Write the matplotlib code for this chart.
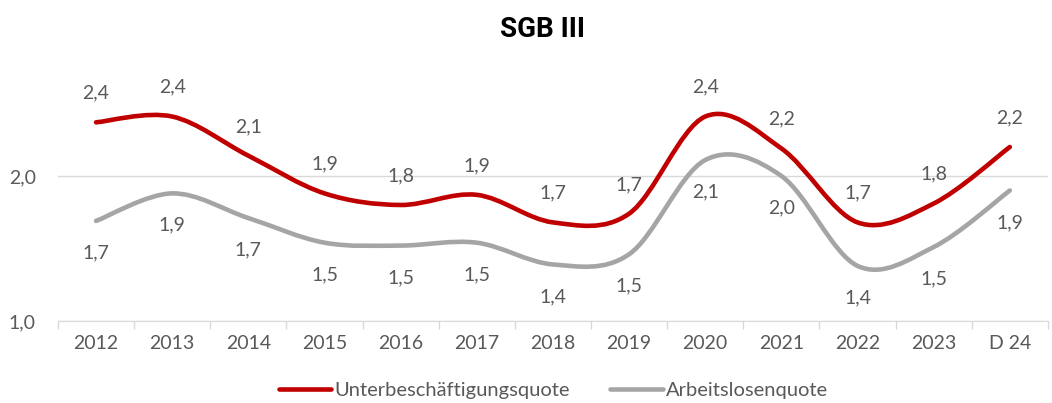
import matplotlib.pyplot as plt
from matplotlib.path import Path
from matplotlib.patches import PathPatch
from matplotlib.lines import Line2D

# Data
years = ['2012', '2013', '2014', '2015', '2016', '2017', '2018', '2019',
         '2020', '2021', '2022', '2023', 'D 24']
unterbesch = [2.37, 2.41, 2.14, 1.88, 1.80, 1.87, 1.68, 1.74, 2.41, 2.19, 1.68, 1.81, 2.20]
arbeitslos = [1.69, 1.88, 1.71, 1.54, 1.52, 1.54, 1.39, 1.46, 2.11, 2.00, 1.38, 1.51, 1.90]

RED = '#C00000'
GRAY = '#A5A5A5'
TXT = '#595959'
FS = 14
plt.rcParams['font.family'] = ['Lato', 'DejaVu Sans']


def smooth_path(xs, ys):
    # cubic bezier through the points (Excel-style smoothed line)
    pts = list(zip(xs, ys))
    verts = [pts[0]]
    codes = [Path.MOVETO]
    n = len(pts)
    for i in range(n - 1):
        p0 = pts[i - 1] if i > 0 else pts[i]
        p1 = pts[i]
        p2 = pts[i + 1]
        p3 = pts[i + 2] if i + 2 < n else pts[i + 1]
        c1 = (p1[0] + (p2[0] - p0[0]) / 6, p1[1] + (p2[1] - p0[1]) / 6)
        c2 = (p2[0] - (p3[0] - p1[0]) / 6, p2[1] - (p3[1] - p1[1]) / 6)
        verts += [c1, c2, p2]
        codes += [Path.CURVE4] * 3
    return Path(verts, codes)


fig = plt.figure(figsize=(10.52, 4.03), dpi=100)
ax = fig.add_axes([0.0551, 0.2035, 0.941, 0.5757])

x = list(range(len(years)))
for vals, color, off in [(unterbesch, RED, 21), (arbeitslos, GRAY, -23)]:
    patch = PathPatch(smooth_path(x, vals), fill=False, edgecolor=color,
                      lw=3.3, capstyle='round', joinstyle='round',
                      transform=ax.transData, clip_on=False, zorder=3)
    ax.add_patch(patch)
    for xi, v in zip(x, vals):
        ax.annotate(f'{v:.1f}'.replace('.', ','), (xi, v), xytext=(0, off),
                    textcoords='offset points', ha='center', va='center',
                    fontsize=FS, color=TXT, annotation_clip=False)

ax.set_xlim(-0.5, len(years) - 0.5)
ax.set_ylim(1.0, 2.6)
ax.set_yticks([1.0, 2.0])
ax.set_yticklabels(['1,0', '2,0'])
ax.set_xticks(x)
ax.set_xticklabels(years)
ax.set_xticks([i - 0.5 for i in range(len(years) + 1)], minor=True)
ax.tick_params(axis='x', which='major', length=0, pad=10, labelsize=FS, colors=TXT)
ax.tick_params(axis='x', which='minor', length=6, color='#D9D9D9', width=1)
ax.tick_params(axis='y', length=0, pad=16, labelsize=FS, colors=TXT)
ax.grid(axis='y', color='#D9D9D9', lw=1)
ax.set_axisbelow(True)
for side in ['left', 'right', 'top']:
    ax.spines[side].set_visible(False)
ax.spines['bottom'].set_color('#D9D9D9')

fig.text(0.516, 0.926, 'SGB III', ha='center', va='center',
         fontsize=20, fontweight='bold', family=['Roboto', 'DejaVu Sans'])

handles = [Line2D([], [], color=RED, lw=3.3, solid_capstyle='round'),
           Line2D([], [], color=GRAY, lw=3.3, solid_capstyle='round')]
leg = fig.legend(handles, ['Unterbeschäftigungsquote', 'Arbeitslosenquote'],
                 loc='center', bbox_to_anchor=(0.526, 0.03), ncol=2,
                 frameon=False, fontsize=14.5, handlelength=2.6,
                 handletextpad=0.15, columnspacing=2.0)
for t in leg.get_texts():
    t.set_color(TXT)

fig.savefig('out.png', dpi=100)
